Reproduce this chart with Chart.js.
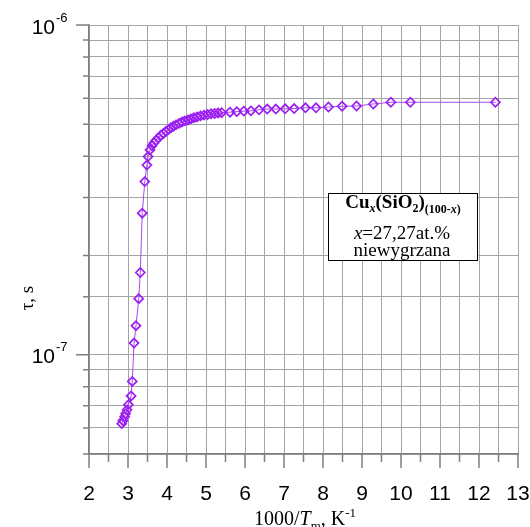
<!DOCTYPE html>
<html>
<head>
<meta charset="utf-8">
<script src="https://cdn.jsdelivr.net/npm/chart.js@4.4.1/dist/chart.umd.min.js"></script>
<style>
  html, body { margin: 0; padding: 0; background: #fff; }
  canvas { display: block; }
</style>
</head>
<body>
<canvas id="tauChart" width="530" height="527"></canvas>
<script>
// 1000/T, K^-1
const invTemp = [2.84, 2.87, 2.915, 2.94, 2.975, 3.01, 3.08, 3.11, 3.155, 3.205,
  3.275, 3.315, 3.365, 3.43, 3.485, 3.515, 3.565, 3.615, 3.665, 3.72,
  3.78, 3.845, 3.91, 3.975, 4.04, 4.1, 4.165, 4.23, 4.31, 4.385,
  4.46, 4.54, 4.615, 4.69, 4.77, 4.86, 4.95, 5.04, 5.13, 5.22,
  5.31, 5.40, 5.615, 5.79, 5.97, 6.15, 6.36, 6.57, 6.79, 7.03,
  7.26, 7.55, 7.82, 8.14, 8.49, 8.86, 9.29, 9.74, 10.24, 12.42];
// tau, s
const tau = [6.18e-8, 6.31e-8, 6.49e-8, 6.63e-8, 6.81e-8, 7.05e-8, 7.5e-8, 8.3e-8, 1.085e-7, 1.225e-7,
  1.479e-7, 1.776e-7, 2.687e-7, 3.35e-7, 3.76e-7, 3.99e-7, 4.18e-7, 4.30e-7, 4.39e-7, 4.47e-7,
  4.55e-7, 4.63e-7, 4.69e-7, 4.76e-7, 4.82e-7, 4.88e-7, 4.93e-7, 4.98e-7, 5.03e-7, 5.08e-7,
  5.12e-7, 5.15e-7, 5.19e-7, 5.23e-7, 5.26e-7, 5.30e-7, 5.33e-7, 5.35e-7, 5.38e-7, 5.39e-7,
  5.41e-7, 5.42e-7, 5.44e-7, 5.46e-7, 5.48e-7, 5.49e-7, 5.53e-7, 5.56e-7, 5.56e-7, 5.57e-7,
  5.58e-7, 5.61e-7, 5.61e-7, 5.64e-7, 5.67e-7, 5.68e-7, 5.76e-7, 5.83e-7, 5.83e-7, 5.83e-7];

const xMin = 2, xMax = 13, xStep = 0.5;
const yMin = 5e-8, yMax = 1e-6;
const yLabelExps = { '1e-7': '-7', '1e-6': '-6' };

const axisColor = '#7f7f7f';
const gridColor = '#a4a4a4';

function isDecade(v) {
  const l = Math.log10(v);
  return Math.abs(l - Math.round(l)) < 1e-6;
}

function drawRuns(ctx, runs, cx, baseline) {
  let total = 0;
  runs.forEach(r => { ctx.font = r[1]; total += ctx.measureText(r[0]).width; });
  let xx = cx - total / 2;
  runs.forEach(r => {
    ctx.font = r[1];
    ctx.fillText(r[0], xx, baseline + (r[2] || 0));
    xx += ctx.measureText(r[0]).width;
  });
}

const decorPlugin = {
  id: 'decor',
  afterDraw(chart) {
    const { ctx, scales: { x, y }, chartArea: a } = chart;
    ctx.save();
    // tick marks
    ctx.strokeStyle = axisColor;
    ctx.lineWidth = 1.5;
    ctx.beginPath();
    x.ticks.forEach(t => {
      const px = x.getPixelForValue(t.value);
      const len = Number.isInteger(t.value) ? 14 : 8;
      ctx.moveTo(px, a.bottom);
      ctx.lineTo(px, a.bottom + len);
    });
    y.ticks.forEach(t => {
      const py = y.getPixelForValue(t.value);
      const len = isDecade(t.value) ? 13 : 6;
      ctx.moveTo(a.left - len, py);
      ctx.lineTo(a.left, py);
    });
    ctx.stroke();

    // y tick labels 10^n
    ctx.fillStyle = '#000';
    ctx.textAlign = 'left';
    ctx.textBaseline = 'alphabetic';
    y.ticks.forEach(t => {
      if (!isDecade(t.value)) return;
      const key = t.value.toExponential(0).replace('+', '');
      const exp = yLabelExps[key];
      if (!exp) return;
      const py = y.getPixelForValue(t.value);
      ctx.font = '21px "Liberation Sans", Arial, sans-serif';
      const w = ctx.measureText('10').width;
      ctx.fillText('10', 55 - w, py + 8.5);
      ctx.font = '13px "Liberation Sans", Arial, sans-serif';
      ctx.fillText(exp, 56, py - 3.5);
    });

    // y title
    ctx.save();
    ctx.translate(28, 298);
    ctx.rotate(-Math.PI / 2);
    ctx.textAlign = 'center';
    ctx.textBaseline = 'middle';
    ctx.font = '19px "Liberation Serif", "Times New Roman", serif';
    ctx.fillText('\u03c4, s', 0, 0);
    ctx.restore();

    // x title
    const serif = '"Liberation Serif", "Times New Roman", serif';
    drawRuns(ctx, [
      ['1000/', '20px ' + serif],
      ['T', 'italic 20px ' + serif],
      ['m', '13px ' + serif, 5],
      [', K', '20px ' + serif],
      ['-1', '13px ' + serif, -8]
    ], 305, 525);

    // label box
    ctx.fillStyle = '#fff';
    ctx.fillRect(328, 193, 150, 68);
    ctx.strokeStyle = '#000';
    ctx.lineWidth = 1;
    ctx.strokeRect(328.5, 193.5, 149, 67);
    ctx.fillStyle = '#000';
    drawRuns(ctx, [
      ['Cu', 'bold 19px ' + serif],
      ['x', 'bold italic 12px ' + serif, 4],
      ['(SiO', 'bold 19px ' + serif],
      ['2', 'bold 12px ' + serif, 4],
      [')', 'bold 19px ' + serif],
      ['(100-', 'bold 12px ' + serif, 5],
      ['x', 'bold italic 12px ' + serif, 5],
      [')', 'bold 12px ' + serif, 5]
    ], 403, 208);
    drawRuns(ctx, [
      ['x', 'italic 19px ' + serif],
      ['=27,27at.%', '19px ' + serif]
    ], 402, 239);
    drawRuns(ctx, [['niewygrzana', '19px ' + serif]], 402, 256);
    ctx.restore();
  }
};

const points = invTemp.map((v, i) => ({ x: v, y: tau[i] }));

new Chart(document.getElementById('tauChart'), {
  type: 'scatter',
  data: {
    datasets: [{
      data: points,
      showLine: true,
      borderColor: '#a845f2',
      borderWidth: 1,
      pointStyle: 'rectRot',
      pointRadius: 4.5,
      pointHoverRadius: 4.5,
      pointBorderColor: '#9a1ff0',
      pointBorderWidth: 1.7,
      pointBackgroundColor: 'rgba(255,255,255,0)'
    }]
  },
  options: {
    responsive: false,
    animation: false,
    layout: { padding: { top: 25, right: 12, left: 0, bottom: 0 } },
    plugins: { legend: { display: false }, tooltip: { enabled: false } },
    scales: {
      x: {
        type: 'linear',
        min: xMin,
        max: xMax,
        afterFit: s => { s.height = 73; s.paddingLeft = 0; s.paddingRight = 0; },
        border: { color: axisColor, width: 1.5 },
        grid: { color: gridColor, drawTicks: false },
        ticks: {
          stepSize: xStep,
          autoSkip: false,
          maxRotation: 0,
          padding: 28,
          color: '#000',
          font: { family: '"Liberation Sans", Arial, sans-serif', size: 21 },
          callback: v => Number.isInteger(v) ? String(v) : ''
        }
      },
      y: {
        type: 'logarithmic',
        min: yMin,
        max: yMax,
        afterFit: s => { s.width = 89; s.paddingTop = 0; s.paddingBottom = 0; },
        border: { color: axisColor, width: 1.5 },
        grid: { color: gridColor, drawTicks: false },
        ticks: { autoSkip: false, callback: () => '' }
      }
    }
  },
  plugins: [decorPlugin]
});
</script>
</body>
</html>
